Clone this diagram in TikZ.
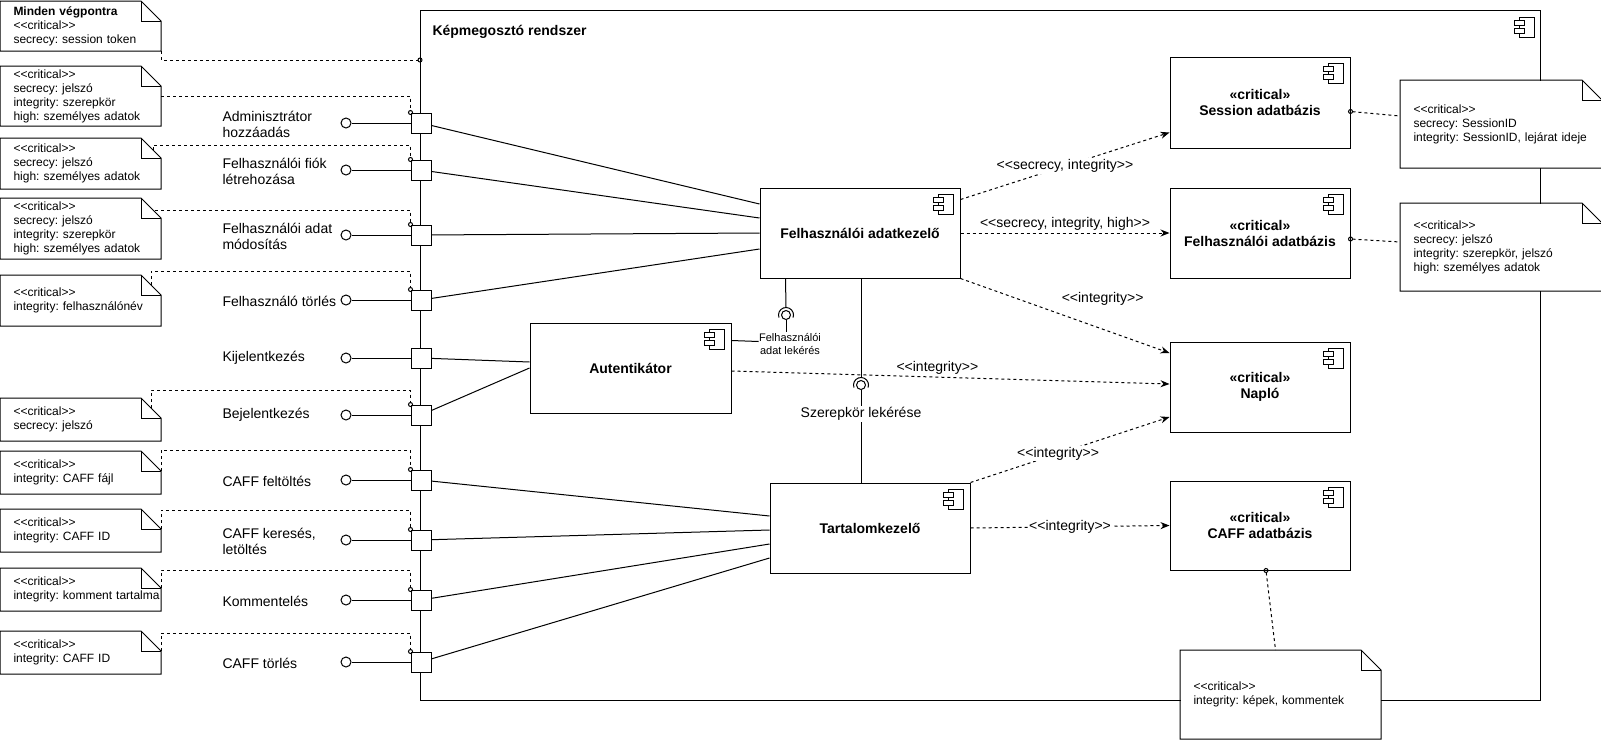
\documentclass[tikz,border=0pt]{standalone}
\usepackage{fontspec}
\setmainfont{Liberation Sans}
\usetikzlibrary{positioning}
\usetikzlibrary{arrows.meta}
\usetikzlibrary{calc}

\newcommand{\dlt}{<\kern0pt<}
\newcommand{\dgt}{>\kern0pt>}
\newcommand{\compicon}[1]{%
  \begin{scope}[shift={(#1.north east)}]
    \draw[fill=white] (-22,7) rectangle (-7,27);
    \draw[fill=white] (-27,10) rectangle (-17,15);
    \draw[fill=white] (-27,18) rectangle (-17,23);
  \end{scope}}

\begin{document}
\frenchspacing
\begin{tikzpicture}[x=1pt, y=-1pt, line width=1pt,
    comp/.style={draw, fill=white, minimum width=200pt, minimum height=90pt, align=center, font=\fontsize{14}{16}\selectfont\bfseries},
    db/.style={comp, minimum width=180pt},
    port/.style={draw, fill=white, minimum size=20pt, inner sep=0pt},
    ball/.style={draw, fill=white, circle, minimum size=10pt, inner sep=0pt},
    plabel/.style={anchor=west, align=left, inner sep=0pt, font=\fontsize{14}{16}\selectfont},
    note/.style={fill=white, anchor=north west, align=left, inner xsep=13pt, inner ysep=0pt, font=\fontsize{12}{14}\selectfont\frenchspacing},
    notelink/.style={dash pattern=on 3pt off 3pt, -{Circle[open,length=5pt]}, shorten >=-2.5pt},
    boxlink/.style={dash pattern=on 3pt off 3pt, {Circle[open,length=5pt]}-, shorten <=-2.5pt},
    dependency/.style={dash pattern=on 3pt off 3pt, -{Stealth[length=9pt,width=7pt]}},
    deplabel/.style={font=\fontsize{14}{16}\selectfont, inner sep=1pt}
]
    \useasboundingbox (0,0) rectangle (1601,739);

    % System boundary
    \node[draw, minimum width=1120pt, minimum height=690pt, anchor=north west, inner sep=0pt] (SYS) at (420,10) {};
    \node[anchor=west, inner sep=0pt, font=\fontsize{14}{16}\selectfont\bfseries] (SYST) at (432,32) {Képmegosztó rendszer};
    \compicon{SYS}

    % Components
    \node[comp] (FA) at (860,233) {Felhasználói adatkezelő};
    \node[comp, minimum width=201pt] (AUT) at (630.5,368) {Autentikátor};
    \node[comp] (TK) at (870,528) {Tartalomkezelő};
    \node[db, minimum height=91pt] (SDB) at (1260,102.5) {«critical»\\Session adatbázis};
    \node[db] (FDB) at (1260,233) {«critical»\\Felhasználói adatbázis};
    \node[db] (NAPLO) at (1260,387) {«critical»\\Napló};
    \node[db, minimum height=89pt] (CDB) at (1260,525.5) {«critical»\\CAFF adatbázis};
    \compicon{FA}
    \compicon{AUT}
    \compicon{TK}
    \compicon{SDB}
    \compicon{FDB}
    \compicon{NAPLO}
    \compicon{CDB}

    % Ports with provided interfaces
    \node[port] (p1) at (421,123) {};
    \node[port] (p2) at (421,170) {};
    \node[port] (p3) at (421,235) {};
    \node[port] (p4) at (421,300) {};
    \node[port] (p5) at (421,358) {};
    \node[port] (p6) at (421,415) {};
    \node[port] (p7) at (421,480) {};
    \node[port] (p8) at (421,540) {};
    \node[port] (p9) at (421,600) {};
    \node[port] (p10) at (421,662) {};

    \node[ball] (b1) at (346,123) {};
    \node[ball] (b2) at (346,170) {};
    \node[ball] (b3) at (346,235) {};
    \node[ball] (b4) at (346,300) {};
    \node[ball] (b5) at (346,358) {};
    \node[ball] (b6) at (346,415) {};
    \node[ball] (b7) at (346,480) {};
    \node[ball] (b8) at (346,540) {};
    \node[ball] (b9) at (346,600) {};
    \node[ball] (b10) at (346,662) {};

    \node[plabel] (l1) at (222,124) {Adminisztrátor\\hozzáadás};
    \node[plabel] (l2) at (222,171) {Felhasználói fiók\\létrehozása};
    \node[plabel] (l3) at (222,236) {Felhasználói adat\\módosítás};
    \node[plabel] (l4) at (222,301) {Felhasználó törlés};
    \node[plabel] (l5) at (222,358) {Kijelentkezés};
    \node[plabel] (l6) at (222,415) {Bejelentkezés};
    \node[plabel] (l7) at (222,481) {CAFF feltöltés};
    \node[plabel] (l8) at (222,541) {CAFF keresés,\\letöltés};
    \node[plabel] (l9) at (222,601) {Kommentelés};
    \node[plabel] (l10) at (222,663) {CAFF törlés};

    \draw (b1) -- (p1);
    \draw (b2) -- (p2);
    \draw (b3) -- (p3);
    \draw (b4) -- (p4);
    \draw (b5) -- (p5);
    \draw (b6) -- (p6);
    \draw (b7) -- (p7);
    \draw (b8) -- (p8);
    \draw (b9) -- (p9);
    \draw (b10) -- (p10);

    % Ports to components
    \draw (p1) -- ([yshift=29pt]FA.west);
    \draw (p2) -- ([yshift=15pt]FA.west);
    \draw (p3) -- (FA.west);
    \draw (p4) -- ([yshift=-16pt]FA.west);
    \draw (p5) -- ([yshift=6pt]AUT.west);
    \draw (p6) -- (AUT.west);
    \draw (p7) -- ([yshift=12pt]TK.west);
    \draw (p8) -- ([yshift=-2pt]TK.west);
    \draw (p9) -- ([yshift=-16pt]TK.west);
    \draw (p10) -- ([yshift=-30pt]TK.west);

    % Notes
    \node[note, text width=134pt, minimum height=49pt] (n1) at (0,1) {{\bfseries Minden végpontra}\\\dlt critical\dgt\\secrecy: session token};
    \node[note, text width=134pt, minimum height=59pt] (n2) at (0,66) {\dlt critical\dgt\\secrecy: jelszó\\integrity: szerepkör\\high: személyes adatok};
    \node[note, text width=134pt, minimum height=50pt] (n3) at (0,138) {\dlt critical\dgt\\secrecy: jelszó\\high: személyes adatok};
    \node[note, text width=134pt, minimum height=60pt] (n4) at (0,198) {\dlt critical\dgt\\secrecy: jelszó\\integrity: szerepkör\\high: személyes adatok};
    \node[note, text width=134pt, minimum height=50pt] (n5) at (0,275) {\dlt critical\dgt\\integrity: felhasználónév};
    \node[note, text width=134pt, minimum height=42pt] (n6) at (0,398) {\dlt critical\dgt\\secrecy: jelszó};
    \node[note, text width=134pt, minimum height=42pt] (n7) at (0,451) {\dlt critical\dgt\\integrity: CAFF fájl};
    \node[note, text width=134pt, minimum height=42pt] (n8) at (0,509) {\dlt critical\dgt\\integrity: CAFF ID};
    \node[note, text width=134pt, minimum height=42pt] (n9) at (0,568) {\dlt critical\dgt\\\mbox{integrity: komment tartalma}};
    \node[note, text width=134pt, minimum height=42pt] (n10) at (0,631) {\dlt critical\dgt\\integrity: CAFF ID};
    \node[note, text width=175pt, minimum height=87pt] (nS) at (1400,80) {\dlt critical\dgt\\secrecy: SessionID\\\mbox{integrity: SessionID, lejárat ideje}};
    \node[note, text width=175pt, minimum height=87pt] (nF) at (1400,203) {\dlt critical\dgt\\secrecy: jelszó\\integrity: szerepkör, jelszó\\high: személyes adatok};
    \node[note, text width=174pt, minimum height=88pt] (nC) at (1180,650) {\dlt critical\dgt\\integrity: képek, kommentek};

    \foreach \n in {n1,n2,n3,n4,n5,n6,n7,n8,n9,n10,nS,nF,nC} {
        \draw (\n.south west) -- (\n.north west) -- ([xshift=-20pt]\n.north east) -- ([yshift=-20pt]\n.north east) -- (\n.south east) -- cycle;
        \draw ([xshift=-20pt]\n.north east) |- ([yshift=-20pt]\n.north east);
    }

    % Note links
    \draw[notelink] (n1.south east) |- ([yshift=-50pt]SYS.north west);
    \draw[notelink] (n2.east) -| (p1.north west);
    \draw[notelink] ([xshift=-8pt,yshift=-12pt]n3.north east) -- ++(0,-5) -| (p2.north west);
    \draw[notelink] ([xshift=-6pt,yshift=-12pt]n4.north east) -| (p3.north west);
    \draw[notelink] ([xshift=-10pt,yshift=-10pt]n5.north east) -- ++(0,-14) -| (p4.north west);
    \draw[notelink] ([xshift=-10pt,yshift=-10pt]n6.north east) -- ++(0,-18) -| (p6.north west);
    \draw[notelink] ([yshift=-20pt]n7.north east) -- ++(0,-21) -| (p7.north west);
    \draw[notelink] ([yshift=-20pt]n8.north east) -- ++(0,-19) -| (p8.north west);
    \draw[notelink] ([yshift=-20pt]n9.north east) -- ++(0,-18) -| (p9.north west);
    \draw[notelink] ([yshift=-20pt]n10.north east) -- ++(0,-18) -| (p10.north west);
    \draw[boxlink] ([yshift=-9pt]SDB.east) -- ([yshift=8pt]nS.west);
    \draw[boxlink] ([yshift=-6pt]FDB.east) -- ([yshift=5pt]nF.west);
    \draw[boxlink] ([xshift=6pt]CDB.south) -- ([xshift=-5pt]nC.north);

    % Felhasznaloi adat lekeres
    \node[ball, minimum size=9pt] (FAL) at (786,315) {};
    \node[font=\fontsize{11}{13}\selectfont, align=center, inner sep=0pt] (FALT) at (790,343.5) {Felhasználói\\adat lekérés};
    \draw ([xshift=26pt]FA.south west) -- ([yshift=7.5pt]FAL.center);
    \draw ([shift={(200:7.5pt)}]FAL.center) arc[start angle=200, end angle=-20, radius=7.5pt];
    \draw (FAL.south) -- (FAL.south |- FALT.north);
    \draw ([yshift=-18pt]AUT.north east) -- ([yshift=2pt]FALT.west);

    % Szerepkor lekerese
    \node[ball, minimum size=9pt] (RL) at (861,385) {};
    \draw ([xshift=1pt]FA.south) -- ([yshift=7.5pt]RL.center);
    \draw ([shift={(200:7.5pt)}]RL.center) arc[start angle=200, end angle=-20, radius=7.5pt];
    \draw (RL.south) -- (RL.south |- TK.north);
    \node[fill=white, inner sep=1pt, font=\fontsize{14}{16}\selectfont] (RLT) at (861,414) {Szerepkör lekérése};

    % Dependencies
    \draw[dependency] ([yshift=-12pt]FA.north east) -- node[deplabel, fill=white] (d1) {\dlt secrecy, integrity\dgt} ([yshift=-30pt]SDB.west);
    \draw[dependency] (FA.east) -- node[deplabel, above=1pt] (d2) {\dlt secrecy, integrity, high\dgt} (FDB.west);
    \draw[dependency] (FA.south east) -- node[deplabel, pos=0.68, above=22pt] (d3) {\dlt integrity\dgt} ([yshift=34pt]NAPLO.west);
    \draw[dependency] ([yshift=-3pt]AUT.east) -- node[deplabel, pos=0.47, above=1pt] (d4) {\dlt integrity\dgt} ([yshift=3pt]NAPLO.west);
    \draw[dependency] (TK.north east) -- node[deplabel, fill=white, pos=0.44] (d5) {\dlt integrity\dgt} ([yshift=-30pt]NAPLO.west);
    \draw[dependency] (TK.east) -- node[deplabel, fill=white] (d6) {\dlt integrity\dgt} (CDB.west);
\end{tikzpicture}
\end{document}
